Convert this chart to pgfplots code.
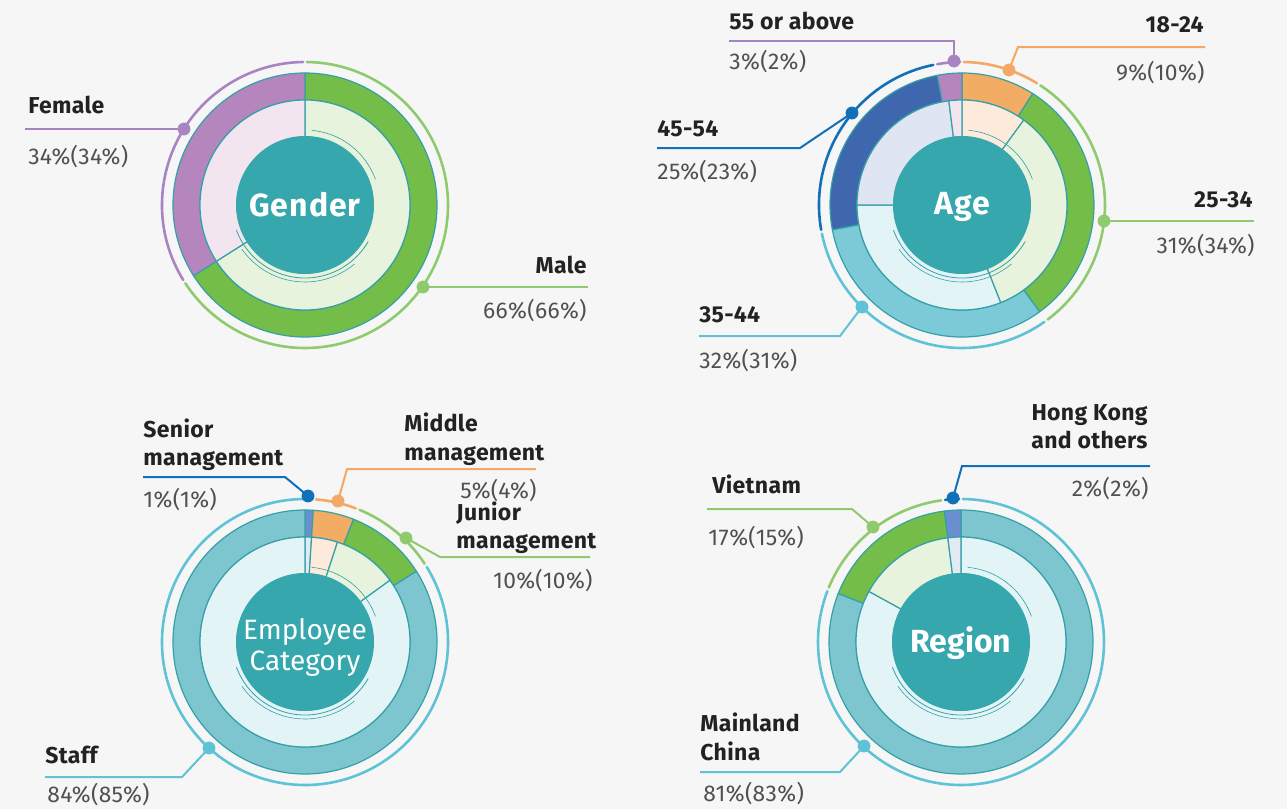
\documentclass[border=0pt]{standalone}
\usepackage{fontspec}
\setmainfont{Fira Sans}
\usepackage{pgfplots}
\usepackage{pgfplotstable}
\pgfplotsset{compat=1.18}

\definecolor{bg}{HTML}{F6F6F6}
\definecolor{core}{HTML}{37A7AE}
\definecolor{ringline}{HTML}{36A0A8}
\definecolor{txt}{HTML}{222222}
\definecolor{sub}{HTML}{505050}
% outer fill / pale inner fill / rim line
\definecolor{gO}{HTML}{74BD48}\definecolor{gP}{HTML}{E7F3DC}\definecolor{gL}{HTML}{8FCB6E}
\definecolor{pO}{HTML}{B585BE}\definecolor{pP}{HTML}{F3E5F0}\definecolor{pL}{HTML}{A884C2}
\definecolor{oO}{HTML}{F2AC63}\definecolor{oP}{HTML}{FDEADA}\definecolor{oL}{HTML}{F4A866}
\definecolor{bO}{HTML}{3E67AE}\definecolor{bP}{HTML}{DFE5F2}\definecolor{bL}{HTML}{1070B8}
\definecolor{cO}{HTML}{7CCAD8}\definecolor{cP}{HTML}{E3F4F7}\definecolor{cL}{HTML}{5EC3D6}
\definecolor{sO}{HTML}{6A8FCE}\definecolor{sP}{HTML}{E2EAF6}
\definecolor{tO}{HTML}{7EC6CF}

% cur = this year (outer ring), prev = last year (inner ring), clockwise from the top
\pgfplotstableread{
cur prev fo fp line
66  66   gO gP gL
34  34   pO pP pL
}\gender
\pgfplotstableread{
cur prev fo fp line
9   10   oO oP oL
31  34   gO gP gL
32  31   cO cP cL
25  23   bO bP bL
3   2    pO pP pL
}\age
\pgfplotstableread{
cur prev fo fp line
1   1    sO sP bL
5   4    oO oP oL
10  10   gO gP gL
84  85   tO cP cL
}\employee
\pgfplotstableread{
cur prev fo fp line
81  83   tO cP cL
17  15   gO gP gL
2   2    sO sP bL
}\region

% one ring: #1 cx, #2 cy, #3 table, #4 value column, #5 colour column, #6 inner r, #7 outer r (px)
\newcommand\ring[7]{%
  \pgfplotstablegetrowsof{#3}%
  \pgfmathtruncatemacro\lastrow{\pgfplotsretval-1}%
  \pgfmathsetmacro\Ri{#6*0.5}\pgfmathsetmacro\Ro{#7*0.5}\pgfmathsetmacro\Rd{(#7-#6)*0.5}%
  \gdef\startang{90}%
  \foreach \i in {0,...,\lastrow}{%
    \pgfplotstablegetelem{\i}{#4}\of{#3}\let\val\pgfplotsretval
    \pgfplotstablegetelem{\i}{#5}\of{#3}\let\col\pgfplotsretval
    \pgfmathsetmacro\endang{\startang-3.6*\val}%
    \filldraw[fill=\col,draw=ringline,line width=0.6pt,line join=round]
      (axis cs:#1,#2) ++(\startang:\Ro pt)
      arc[start angle=\startang,end angle=\endang,radius=\Ro pt]
      -- ++(\endang:-\Rd pt)
      arc[start angle=\endang,end angle=\startang,radius=\Ri pt] -- cycle;
    \xdef\startang{\endang}%
  }%
}
% thin coloured arcs outside the donut
\newcommand\rim[3]{%
  \pgfplotstablegetrowsof{#3}%
  \pgfmathtruncatemacro\lastrow{\pgfplotsretval-1}%
  \gdef\startang{90}%
  \foreach \i in {0,...,\lastrow}{%
    \pgfplotstablegetelem{\i}{cur}\of{#3}\let\val\pgfplotsretval
    \pgfplotstablegetelem{\i}{line}\of{#3}\let\col\pgfplotsretval
    \pgfmathsetmacro\endang{\startang-3.6*\val}%
    \pgfmathsetmacro\sa{\startang-0.8}\pgfmathsetmacro\ea{\endang+0.8}%
    \draw[draw=\col,line width=1.3pt,line cap=round]
      (axis cs:#1,#2) ++(\sa:71.5pt) arc[start angle=\sa,end angle=\ea,radius=71.5pt];
    \xdef\startang{\endang}%
  }%
}
\newcommand\donut[3]{%
  \ring{#1}{#2}{#3}{cur}{fo}{105}{132}%
  \ring{#1}{#2}{#3}{prev}{fp}{68}{105}%
  \rim{#1}{#2}{#3}%
  \fill[core] (axis cs:#1,#2) circle[radius=34.5pt];
  \draw[ringline,line width=0.4pt] (axis cs:#1,#2) ++(200:36.5pt) arc[start angle=200,end angle=330,radius=36.5pt];
  \draw[ringline,line width=0.3pt] (axis cs:#1,#2) ++(215:38.5pt) arc[start angle=215,end angle=310,radius=38.5pt];
  \draw[ringline,line width=0.3pt] (axis cs:#1,#2) ++(20:37.5pt) arc[start angle=20,end angle=85,radius=37.5pt];
}

\newcommand\lab{\bfseries\fontsize{11.5}{13}\selectfont\addfontfeature{LetterSpace=1.5}}
\newcommand\pct{\fontsize{11.4}{13}\selectfont\addfontfeature{LetterSpace=1.5}}
\tikzset{L/.style={anchor=base west,inner sep=0pt,text=txt,font=\lab},
         R/.style={anchor=base east,inner sep=0pt,text=txt,font=\lab},
         pL/.style={anchor=base west,inner sep=0pt,text=sub,font=\pct},
         pR/.style={anchor=base east,inner sep=0pt,text=sub,font=\pct}}

\begin{document}
\begin{tikzpicture}
\begin{axis}[
  x=0.5pt, y=0.5pt, y dir=reverse,
  xmin=0, xmax=1287, ymin=0, ymax=809,
  hide axis, scale only axis, clip=true,
]
\addplot[draw=none] coordinates {(0,0) (1287,809)};
\pgfplotsextra{%
  \fill[bg] (axis cs:0,0) rectangle (axis cs:1287,809);
  \donut{305}{205}{\gender}%
  \donut{962}{205}{\age}%
  \donut{305}{642}{\employee}%
  \donut{961}{642}{\region}%
}

% leader lines and dots
\addplot[draw=pL,line width=1pt] coordinates {(25,129) (184,129)};
\addplot[draw=gL,line width=1pt] coordinates {(423,287) (588,287)};
\addplot[draw=pL,line width=1pt] coordinates {(729,41) (954,41) (954,61)};
\addplot[draw=oL,line width=1pt] coordinates {(1205,47) (1018,47) (1009,70)};
\addplot[draw=bL,line width=1pt] coordinates {(657,148) (800,148) (852,113)};
\addplot[draw=gL,line width=1pt] coordinates {(1104,221) (1254,221)};
\addplot[draw=cL,line width=1pt] coordinates {(699,336) (840,336) (862,307)};
\addplot[draw=bL,line width=1pt] coordinates {(143,477) (285,477) (308,496)};
\addplot[draw=oL,line width=1pt] coordinates {(536,469) (347,469) (338,501)};
\addplot[draw=gL,line width=1pt] coordinates {(590,557) (440,557) (406,538)};
\addplot[draw=cL,line width=1pt] coordinates {(45,777) (182,777) (209,748)};
\addplot[draw=bL,line width=1pt] coordinates {(1150,466) (962,466) (953,498)};
\addplot[draw=gL,line width=1pt] coordinates {(707,509) (852,509) (873,527)};
\addplot[draw=cL,line width=1pt] coordinates {(700,772) (840,772) (864,746)};

\addplot[only marks,mark=*,mark size=3pt,color=pL] coordinates {(184,129) (954,61)};
\addplot[only marks,mark=*,mark size=3pt,color=gL] coordinates {(423,287) (1104,221) (406,538) (873,527)};
\addplot[only marks,mark=*,mark size=3pt,color=oL] coordinates {(1009,70) (338,501)};
\addplot[only marks,mark=*,mark size=3pt,color=bL] coordinates {(852,113) (308,496) (953,498)};
\addplot[only marks,mark=*,mark size=3pt,color=cL] coordinates {(862,307) (209,748) (864,746)};

% centre titles
\node[text=white,font=\bfseries\fontsize{16}{18}\selectfont\addfontfeature{LetterSpace=3}] at (axis cs:305,205) {Gender};
\node[text=white,font=\bfseries\fontsize{16}{18}\selectfont\addfontfeature{LetterSpace=3}] at (axis cs:962,207) {Age};
\node[text=white,font=\fontsize{14}{15.5}\selectfont,align=center] at (axis cs:305,647) {Employee\\Category};
\node[text=white,font=\bfseries\fontsize{16}{18}\selectfont] at (axis cs:961,643) {Region};

% labels
\node[L] at (axis cs:28,113) {Female};
\node[pL] at (axis cs:28,164) {34\%(34\%)};
\node[R] at (axis cs:587,273) {Male};
\node[pR] at (axis cs:587,318) {66\%(66\%)};

\node[L] at (axis cs:729,29) {55 or above};
\node[pL] at (axis cs:729,69) {3\%(2\%)};
\node[R] at (axis cs:1204,32) {18-24};
\node[pR] at (axis cs:1205,80) {9\%(10\%)};
\node[L] at (axis cs:657,136) {45-54};
\node[pL] at (axis cs:657,179) {25\%(23\%)};
\node[R] at (axis cs:1253,207) {25-34};
\node[pR] at (axis cs:1255,253) {31\%(34\%)};
\node[L] at (axis cs:699,322) {35-44};
\node[pL] at (axis cs:699,368) {32\%(31\%)};

\node[L] at (axis cs:143,437) {Senior};
\node[L] at (axis cs:143,465) {management};
\node[pL] at (axis cs:143,507) {1\%(1\%)};
\node[L] at (axis cs:404,431) {Middle};
\node[L] at (axis cs:404,460) {management};
\node[pR] at (axis cs:537,498) {5\%(4\%)};
\node[L] at (axis cs:456,520) {Junior};
\node[L] at (axis cs:456,548) {management};
\node[pR] at (axis cs:593,588) {10\%(10\%)};
\node[L] at (axis cs:45,763) {Staff};
\node[pL] at (axis cs:47,802) {84\%(85\%)};

\node[R] at (axis cs:1148,420) {Hong Kong};
\node[R] at (axis cs:1148,448) {and others};
\node[pR] at (axis cs:1149,496) {2\%(2\%)};
\node[L] at (axis cs:712,493) {Vietnam};
\node[pL] at (axis cs:708,545) {17\%(15\%)};
\node[L] at (axis cs:700,731) {Mainland};
\node[L] at (axis cs:700,760) {China};
\node[pL] at (axis cs:703,801) {81\%(83\%)};
\end{axis}
\end{tikzpicture}
\end{document}
